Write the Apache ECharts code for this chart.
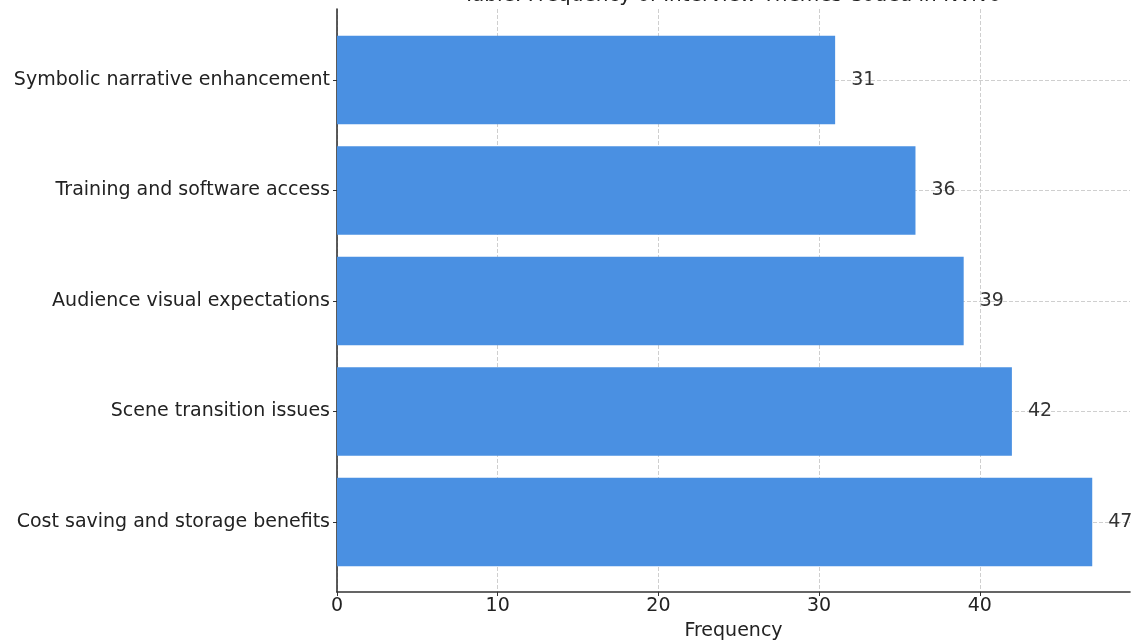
<!DOCTYPE html>
<html>
<head>
<meta charset="utf-8">
<script src="https://cdn.jsdelivr.net/npm/echarts@6/dist/echarts.min.js"></script>
<style>
  html, body { margin: 0; padding: 0; background: #fff; }
  #chart { width: 1138px; height: 644px; }
</style>
</head>
<body>
<div id="chart"></div>
<script>
// Interview themes, listed bottom to top
const themes = [
  'Cost saving and storage benefits',
  'Scene transition issues',
  'Audience visual expectations',
  'Training and software access',
  'Symbolic narrative enhancement'
];
const frequencies = [47, 42, 39, 36, 31];
const xTicks = [0, 10, 20, 30, 40];

const FONT = 'DejaVu Sans';
const FS = 19;
const xMax = 49.35;
const gridColor = '#cfcfcf';
const axisColor = '#333333';

const chart = echarts.init(document.getElementById('chart'), null, { renderer: 'canvas' });

chart.setOption({
  animation: false,
  backgroundColor: '#ffffff',
  title: {
    text: 'Table: Frequency of Interview Themes Coded in NVivo',
    left: 727,
    textAlign: 'center',
    top: -19,
    textStyle: { fontFamily: FONT, fontSize: 20, fontWeight: 'normal', color: '#222' }
  },
  grid: [
    // frame: spines, x ticks, vertical grid lines
    { left: 337, right: 8, top: 9, bottom: 52, containLabel: false, outerBoundsMode: 'none' },
    // bar band area
    { left: 337, right: 8, top: 24.75, height: 552.5, containLabel: false, outerBoundsMode: 'none' }
  ],
  xAxis: [
    {
      gridIndex: 0,
      type: 'value',
      min: 0,
      max: xMax,
      interval: 10,
      name: 'Frequency',
      nameLocation: 'middle',
      nameGap: 30,
      nameTextStyle: { fontFamily: FONT, fontSize: FS, color: '#222' },
      axisLine: { show: true, lineStyle: { color: axisColor, width: 1.6 } },
      axisTick: { show: true, length: 4, lineStyle: { color: axisColor } },
      axisLabel: {
        fontFamily: FONT, fontSize: FS, color: '#222', margin: 5,
        showMaxLabel: false,
        formatter: v => (xTicks.indexOf(v) >= 0 ? String(v) : '')
      },
      splitLine: {
        show: true,
        lineStyle: {
          // no grid line at the right-hand end of the axis
          color: xTicks.map(() => gridColor).concat(['rgba(0,0,0,0)']),
          type: [4, 2],
          width: 1
        }
      }
    },
    {
      gridIndex: 1,
      type: 'value',
      min: 0,
      max: xMax,
      show: false,
      splitLine: { show: false }
    }
  ],
  yAxis: [
    {
      gridIndex: 0,
      type: 'value',
      min: 0,
      max: 1,
      axisLine: { show: true, onZero: false, lineStyle: { color: axisColor, width: 1.6 } },
      axisTick: { show: false },
      axisLabel: { show: false },
      splitLine: { show: false }
    },
    {
      gridIndex: 1,
      type: 'category',
      data: themes,
      axisLine: { show: false },
      axisTick: { show: true, alignWithLabel: true, length: 4, lineStyle: { color: axisColor } },
      axisLabel: { fontFamily: FONT, fontSize: FS, color: '#222', margin: 7 },
      splitLine: { show: false }
    }
  ],
  series: [
    {
      type: 'bar',
      xAxisIndex: 1,
      yAxisIndex: 1,
      data: frequencies,
      barWidth: '80%',
      z: 2,
      itemStyle: { color: '#4a90e2' },
      label: {
        show: true,
        position: 'right',
        distance: 16,
        fontFamily: FONT,
        fontSize: FS,
        color: '#333'
      },
      // horizontal grid lines through each category centre, behind the bars
      markLine: {
        silent: true,
        z: 1,
        symbol: ['none', 'none'],
        label: { show: false },
        lineStyle: { color: gridColor, type: [4, 2], width: 1 },
        data: themes.map(t => ({ yAxis: t }))
      }
    }
  ]
});
</script>
</body>
</html>
